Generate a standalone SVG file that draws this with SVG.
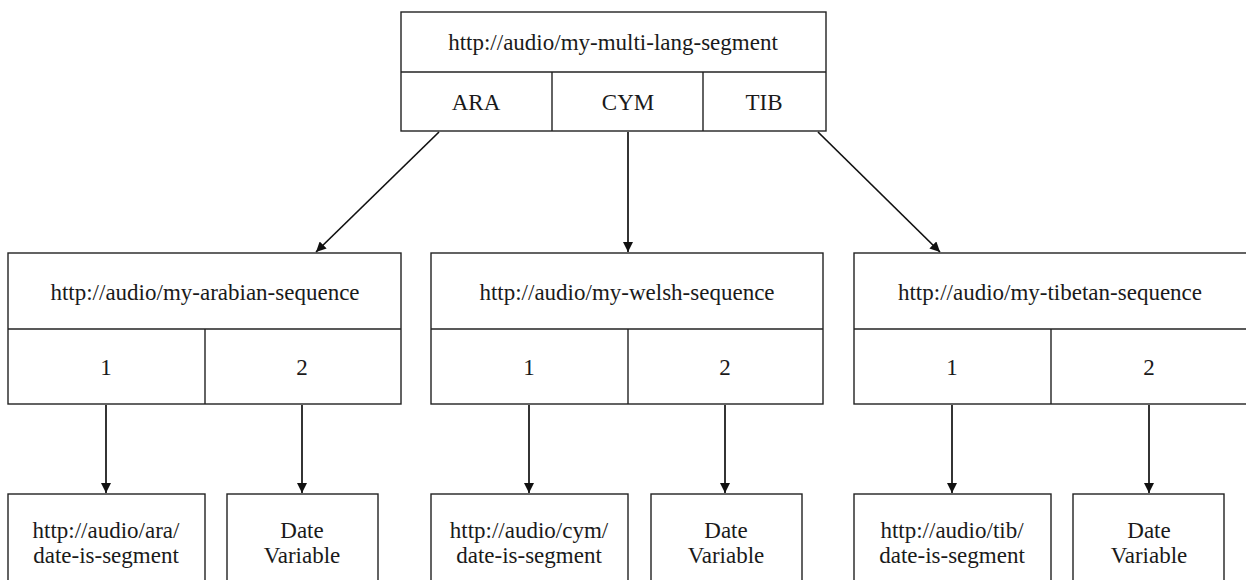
<svg xmlns="http://www.w3.org/2000/svg" width="1246" height="580" viewBox="0 0 1246 580">
<style>
.b{fill:#fff;stroke:#222;stroke-width:1.4}
.l{stroke:#222;stroke-width:1.4;fill:none}
text{font-family:"Liberation Serif","Times New Roman",serif;font-size:23px;fill:#1a1a1a;text-anchor:middle;dominant-baseline:central}
.c{stroke:#111;stroke-width:1.7;fill:none;marker-end:url(#ah)}
</style>
<defs>
<marker id="ah" viewBox="0 0 10 10" refX="10" refY="5" markerWidth="11" markerHeight="10" markerUnits="userSpaceOnUse" orient="auto">
<path d="M0,0 L10,5 L0,10 z" fill="#111"/>
</marker>
</defs>
<g id="top">
<rect class="b" x="401" y="12" width="425" height="119"/>
<line class="l" x1="401" y1="72" x2="826" y2="72"/>
<line class="l" x1="552" y1="72" x2="552" y2="131"/>
<line class="l" x1="703" y1="72" x2="703" y2="131"/>
<text x="613" y="42">http://audio/my-multi-lang-segment</text>
<text x="476" y="102">ARA</text>
<text x="628" y="102">CYM</text>
<text x="764" y="102">TIB</text>
</g>
<g id="ara-seq">
<rect class="b" x="8" y="253" width="393" height="151"/>
<line class="l" x1="8" y1="329" x2="401" y2="329"/>
<line class="l" x1="205" y1="329" x2="205" y2="404"/>
<text x="205" y="292">http://audio/my-arabian-sequence</text>
<text x="106" y="367">1</text>
<text x="302" y="367">2</text>
</g>
<g id="cym-seq">
<rect class="b" x="431" y="253" width="392" height="151"/>
<line class="l" x1="431" y1="329" x2="823" y2="329"/>
<line class="l" x1="628" y1="329" x2="628" y2="404"/>
<text x="627" y="292">http://audio/my-welsh-sequence</text>
<text x="529" y="367">1</text>
<text x="725" y="367">2</text>
</g>
<g id="tib-seq">
<rect class="b" x="854" y="253" width="400" height="151"/>
<line class="l" x1="854" y1="329" x2="1254" y2="329"/>
<line class="l" x1="1051" y1="329" x2="1051" y2="404"/>
<text x="1050" y="292">http://audio/my-tibetan-sequence</text>
<text x="952" y="367">1</text>
<text x="1149" y="367">2</text>
</g>
<g id="ara-seg">
<rect class="b" x="8" y="494" width="197" height="100"/>
<text x="106" y="530">http://audio/ara/</text>
<text x="106" y="555">date-is-segment</text>
</g>
<g id="ara-date">
<rect class="b" x="227" y="494" width="151" height="100"/>
<text x="302" y="530">Date</text>
<text x="302" y="555">Variable</text>
</g>
<g id="cym-seg">
<rect class="b" x="431" y="494" width="197" height="100"/>
<text x="529" y="530">http://audio/cym/</text>
<text x="529" y="555">date-is-segment</text>
</g>
<g id="cym-date">
<rect class="b" x="651" y="494" width="151" height="100"/>
<text x="726" y="530">Date</text>
<text x="726" y="555">Variable</text>
</g>
<g id="tib-seg">
<rect class="b" x="854" y="494" width="197" height="100"/>
<text x="952" y="530">http://audio/tib/</text>
<text x="952" y="555">date-is-segment</text>
</g>
<g id="tib-date">
<rect class="b" x="1073" y="494" width="151" height="100"/>
<text x="1149" y="530">Date</text>
<text x="1149" y="555">Variable</text>
</g>
<g id="connectors">
<line class="c" x1="439" y1="132" x2="316" y2="252"/>
<line class="c" x1="628" y1="132" x2="628" y2="252"/>
<line class="c" x1="818" y1="132" x2="940" y2="252"/>
<line class="c" x1="106" y1="405" x2="106" y2="493"/>
<line class="c" x1="302" y1="405" x2="302" y2="493"/>
<line class="c" x1="529" y1="405" x2="529" y2="493"/>
<line class="c" x1="725" y1="405" x2="725" y2="493"/>
<line class="c" x1="952" y1="405" x2="952" y2="493"/>
<line class="c" x1="1149" y1="405" x2="1149" y2="493"/>
</g>
</svg>
